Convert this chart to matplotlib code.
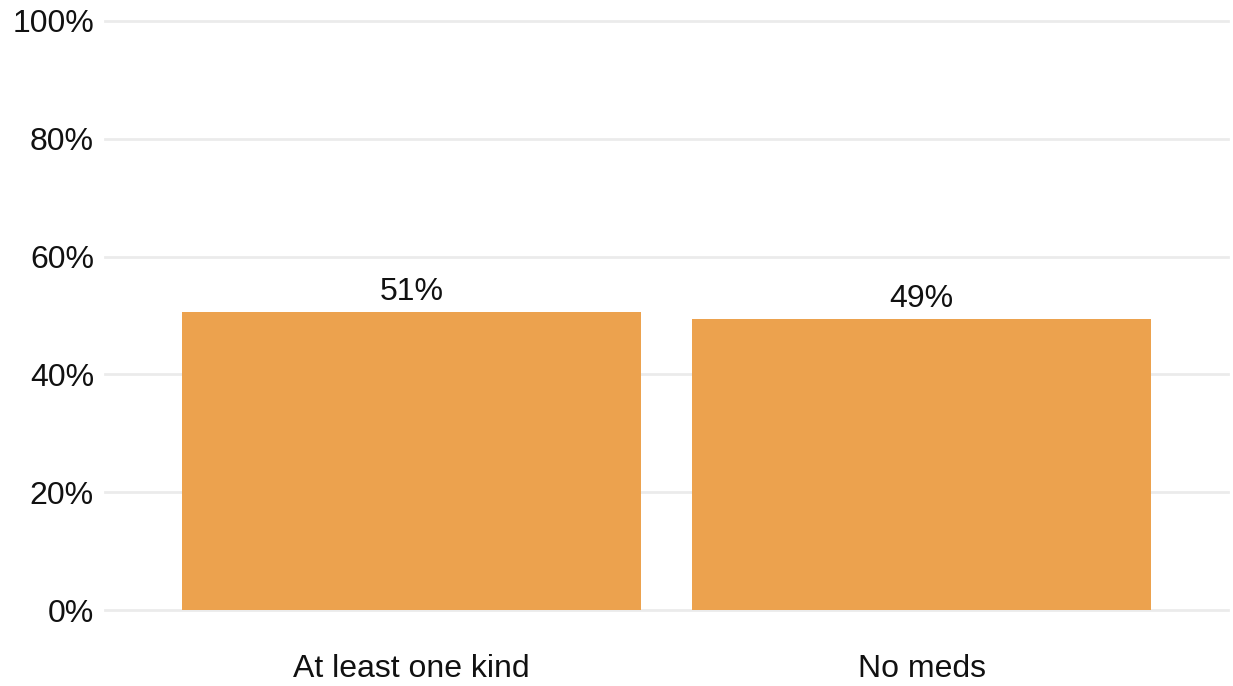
import matplotlib
matplotlib.use("Agg")
from matplotlib import pyplot as plt

categorias = ["At least one kind", "No meds"]
valores = [0.506, 0.494]
etiquetas = ["51%", "49%"]
ticks_y = [0, 0.2, 0.4, 0.6, 0.8, 1.0]
ticks_y_lab = ["0%", "20%", "40%", "60%", "80%", "100%"]

plt.rcParams['font.family'] = ['Liberation Sans', 'DejaVu Sans']

fig = plt.figure(figsize=(12.33, 6.86), dpi=100)
ax = fig.add_axes([105/1233, 1-610/686, (1228-105)/1233, (610-21)/686])

x = list(range(len(categorias)))
ax.bar(x, valores, width=0.9, color="#eca24e", zorder=2)
for xi, v, t in zip(x, valores, etiquetas):
    ax.text(xi, v + 0.0085, t, ha="center", va="bottom", fontsize=23, color="#111111")

ax.set_xlim(-0.6, 1.6)
ax.set_ylim(0, 1)
ax.set_yticks(ticks_y)
ax.set_yticklabels(ticks_y_lab, fontsize=23, color="#111111")
ax.set_xticks(x)
ax.set_xticklabels(categorias, fontsize=23, color="#111111")
ax.tick_params(axis="y", length=0, pad=8)
ax.tick_params(axis="x", length=0, pad=32)
ax.yaxis.grid(True, color="#ebebeb", linewidth=2, zorder=0)
for s in ax.spines.values():
    s.set_visible(False)
for gl in ax.get_ygridlines():
    gl.set_clip_on(False)

plt.savefig("out.png", dpi=100)
